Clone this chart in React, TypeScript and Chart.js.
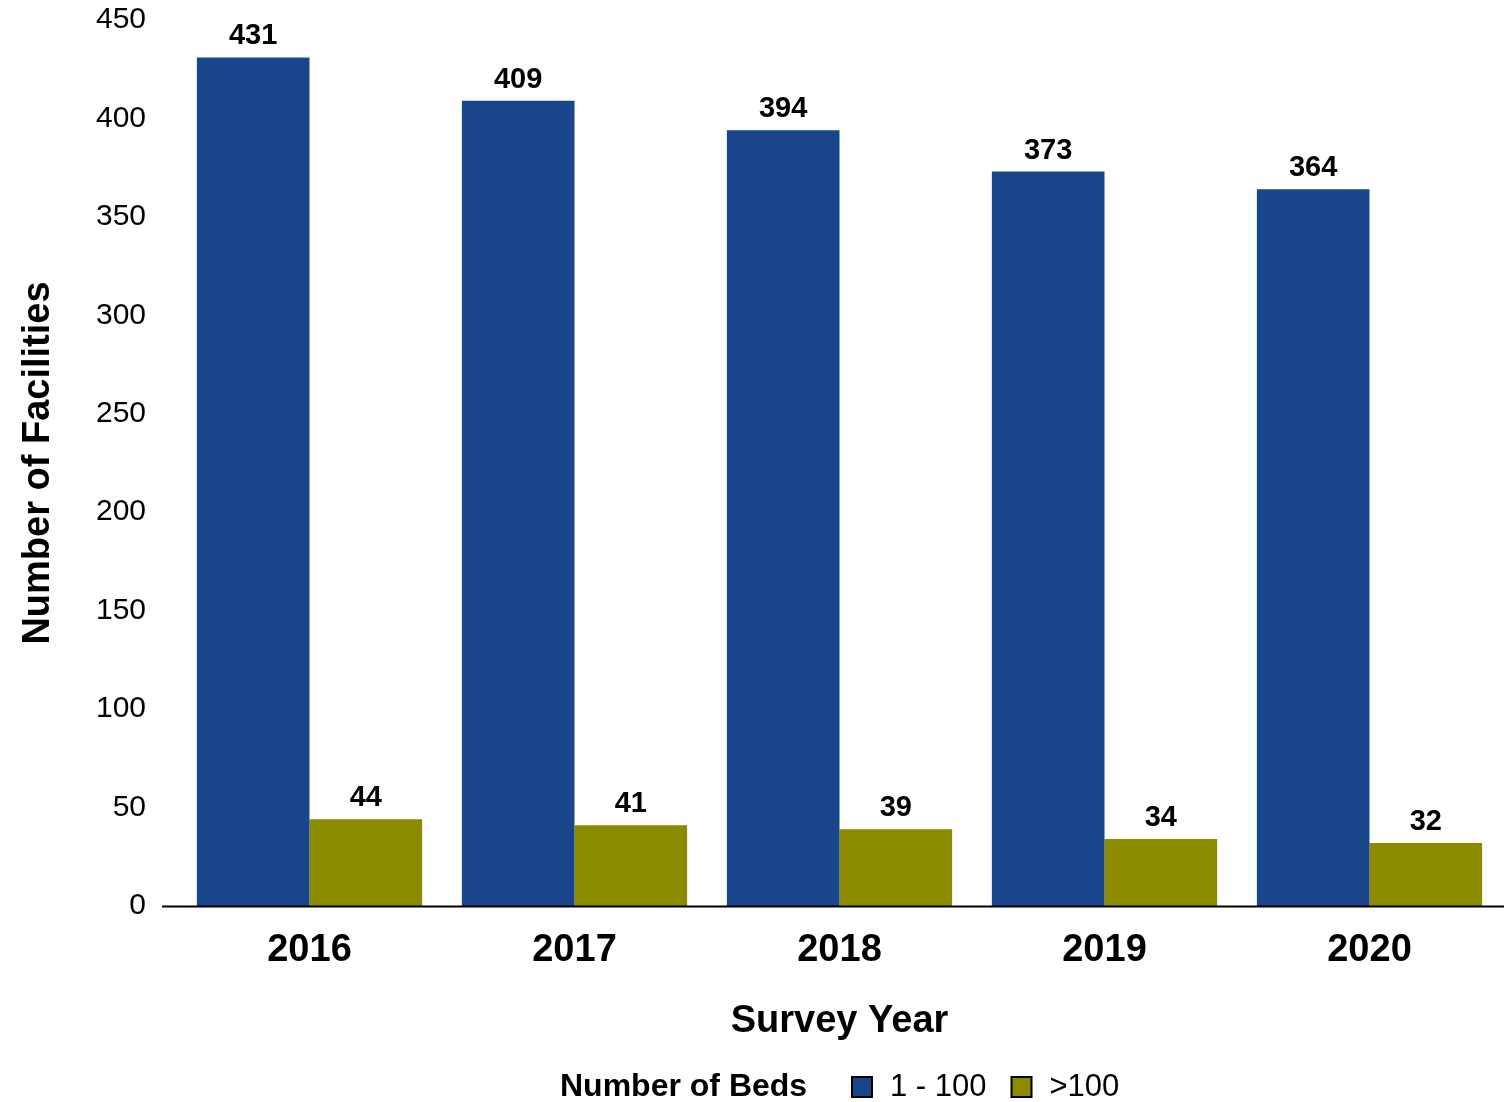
import React, { useEffect, useRef } from "react";
import { Chart, registerables } from "chart.js";

Chart.register(...registerables);

const categories = ["2016", "2017", "2018", "2019", "2020"];
const seriesSmall = [431, 409, 394, 373, 364];
const seriesLarge = [44, 41, 39, 34, 32];
const seriesNames = ["1 - 100", ">100"];
const seriesColors = ["#19468b", "#8c8b00"];
const legendTitle = "Number of Beds";
const xTitle = "Survey Year";
const yTitle = "Number of Facilities";

const FONT = "'Liberation Sans', Arial, Helvetica, sans-serif";

const extrasPlugin = {
  id: "extras",
  afterDatasetsDraw(chart: any) {
    const ctx = chart.ctx;
    const area = chart.chartArea;
    ctx.save();
    // axis line
    ctx.strokeStyle = "#000";
    ctx.lineWidth = 2;
    ctx.beginPath();
    ctx.moveTo(162, area.bottom + 0.5);
    ctx.lineTo(chart.width, area.bottom + 0.5);
    ctx.stroke();
    // data labels
    ctx.fillStyle = "#000";
    ctx.font = `bold 29px ${FONT}`;
    ctx.textAlign = "center";
    ctx.textBaseline = "alphabetic";
    chart.data.datasets.forEach((ds: any, i: number) => {
      const meta = chart.getDatasetMeta(i);
      meta.data.forEach((bar: any, j: number) => {
        ctx.fillText(String(ds.data[j]), bar.x, bar.y - 13);
      });
    });
    // legend
    const ly = 1087;
    ctx.textAlign = "left";
    ctx.textBaseline = "middle";
    ctx.font = `bold 32px ${FONT}`;
    ctx.fillText(legendTitle, 560, ly);
    let x = 852;
    chart.data.datasets.forEach((ds: any, i: number) => {
      ctx.fillStyle = ds.backgroundColor;
      ctx.fillRect(x, ly - 10, 20, 20);
      ctx.strokeStyle = "#000";
      ctx.lineWidth = 2;
      ctx.strokeRect(x, ly - 10, 20, 20);
      ctx.fillStyle = "#000";
      ctx.font = `31px ${FONT}`;
      ctx.fillText(ds.label, x + 38, ly);
      x += 38 + ctx.measureText(ds.label).width + 25;
    });
    ctx.restore();
  },
};

export default function App() {
  const ref = useRef<HTMLCanvasElement>(null);
  useEffect(() => {
    document.body.style.margin = "0";
    const chart = new Chart(ref.current as HTMLCanvasElement, {
      type: "bar",
      data: {
        labels: categories,
        datasets: [
          { label: seriesNames[0], data: seriesSmall, backgroundColor: seriesColors[0] },
          { label: seriesNames[1], data: seriesLarge, backgroundColor: seriesColors[1] },
        ],
      },
      options: {
        animation: false,
        responsive: false,
        maintainAspectRatio: false,
        layout: { padding: { top: 20, right: 2, left: 0, bottom: 58 } },
        datasets: { bar: { categoryPercentage: 0.85, barPercentage: 1 } },
        plugins: { legend: { display: false }, tooltip: { enabled: false } },
        scales: {
          x: {
            grid: { display: false, drawTicks: false },
            border: { display: false },
            ticks: { color: "#000", font: { family: FONT, size: 38, weight: "bold" }, padding: 22 },
            title: {
              display: true,
              text: xTitle,
              color: "#000",
              font: { family: FONT, size: 38, weight: "bold" },
              padding: { top: 0, bottom: 0 },
            },
            afterFit: (s: any) => {
              s.height = 138;
              s.paddingLeft = 0;
              s.paddingRight = 0;
            },
          },
          y: {
            min: 0,
            max: 450,
            ticks: { stepSize: 50, color: "#000", font: { family: FONT, size: 30 }, padding: 31 },
            grid: { display: false, drawTicks: false },
            border: { display: false },
            title: {
              display: true,
              text: yTitle,
              color: "#000",
              font: { family: FONT, size: 38, weight: "bold" },
              padding: { top: 16, bottom: 0 },
            },
            afterFit: (s: any) => {
              s.width = 177;
              s.paddingTop = 0;
              s.paddingBottom = 0;
            },
          },
        },
      },
      plugins: [extrasPlugin],
    });
    return () => chart.destroy();
  }, []);
  return (
    <div style={{ position: "absolute", left: 0, top: 0, width: 1504, height: 1102 }}>
      <canvas ref={ref} width={1504} height={1102} style={{ width: 1504, height: 1102 }} />
    </div>
  );
}
